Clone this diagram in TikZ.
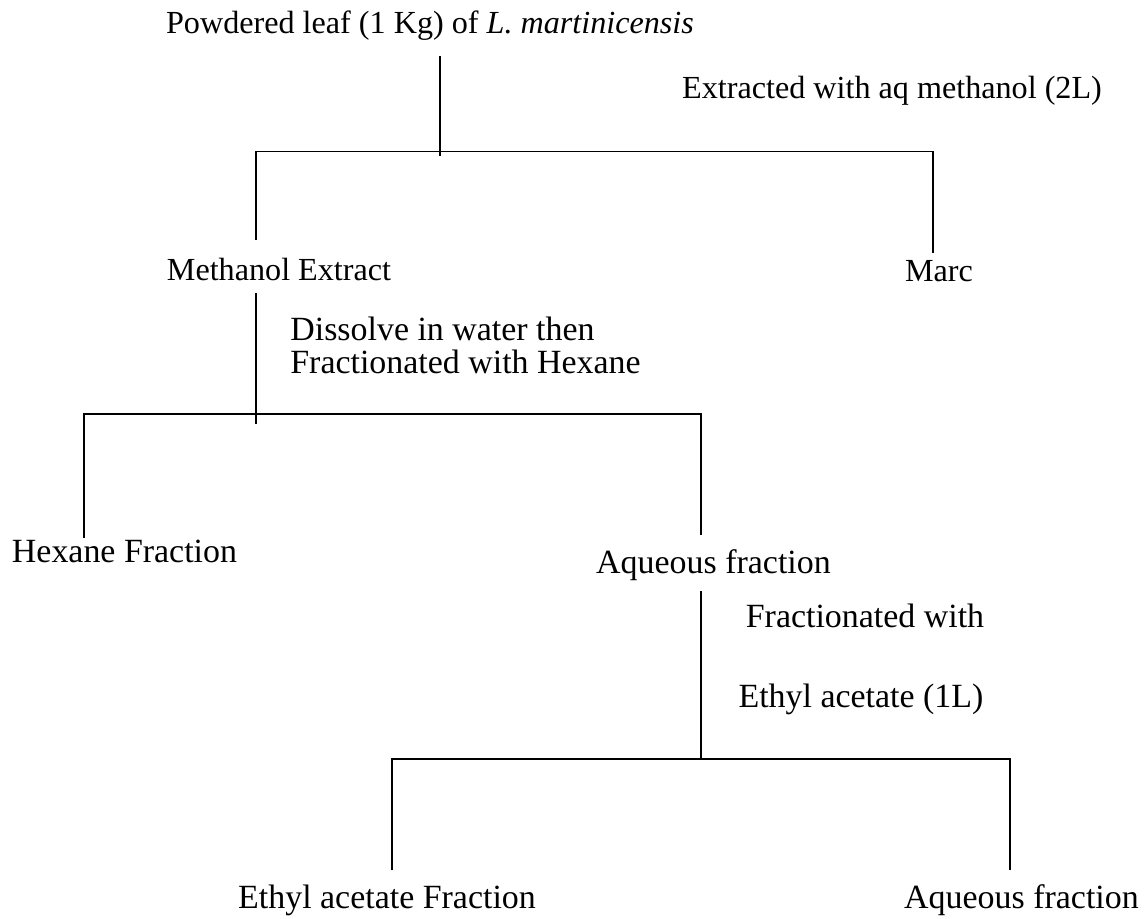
\documentclass[tikz,border=0pt]{standalone}
\usepackage{fontspec}
\setmainfont{Liberation Serif}
\usetikzlibrary{calc}
\tikzstyle{lbl} = [
    inner sep=0pt,
    font=\fontsize{18.3}{20}\selectfont,
]
\tikzstyle{plbl} = [lbl, font=\fontsize{19.3}{18.6}\selectfont]
\tikzstyle{note} = [plbl, align=left, anchor=west]
\tikzstyle{line} = [line width=0.9pt]

\begin{document}
\begin{tikzpicture}
    \useasboundingbox (0,0) rectangle (22.88,-18.38);
    \node (pw) [lbl] at (8.6,-0.51) {Powdered leaf (1 Kg) of \textit{L. martinicensis}};
    \node (ex) [lbl] at (17.84,-1.82) {Extracted with aq methanol (2L)};
    \node (me) [lbl] at (5.58,-5.38) {Methanol Extract};
    \node (mc) [lbl] at (18.78,-5.42) {Marc};
    \node (dw) [note] at (5.8,-6.91) {Dissolve in water then\\Fractionated with Hexane};
    \node (hx) [plbl] at (2.49,-11.02) {Hexane Fraction};
    \node (aq) [plbl] at (14.27,-11.3) {Aqueous fraction};
    \node (fw) [plbl] at (17.3,-12.31) {Fractionated with};
    \node (ea) [plbl] at (17.22,-13.98) {Ethyl acetate (1L)};
    \node (ef) [plbl] at (7.74,-18.0) {Ethyl acetate Fraction};
    \node (af) [plbl] at (20.43,-18.0) {Aqueous fraction};

    % split points
    \coordinate (t1) at (8.8,-3.03);
    \coordinate (l1) at (5.12,-3.03);
    \coordinate (r1) at (18.66,-3.03);
    \coordinate (t2) at (5.12,-8.28);
    \coordinate (l2) at (1.68,-8.28);
    \coordinate (r2) at (14.02,-8.28);
    \coordinate (t3) at (14.02,-15.18);
    \coordinate (l3) at (7.84,-15.18);
    \coordinate (r3) at (20.2,-15.18);

    % extraction
    \draw [line, shorten <=9pt] (pw.south -| t1) -- ($(t1)+(0,-0.08)$);
    \draw [line, shorten <=10pt, shorten >=4pt] (me.north -| l1) |- (r1) -- (mc.north -| r1);
    % hexane
    \draw [line, shorten <=7pt] (me.south -| t2) -- ($(t2)+(0,-0.2)$);
    \draw [line, shorten <=1pt, shorten >=8pt] (hx.north -| l2) |- (r2) -- (aq.north -| r2);
    % ethyl acetate
    \draw [line, shorten <=6pt] (aq.south -| t3) -- (t3);
    \draw [line, shorten <=8pt, shorten >=8pt] (ef.north -| l3) |- (r3) -- (af.north -| r3);
\end{tikzpicture}
\end{document}
